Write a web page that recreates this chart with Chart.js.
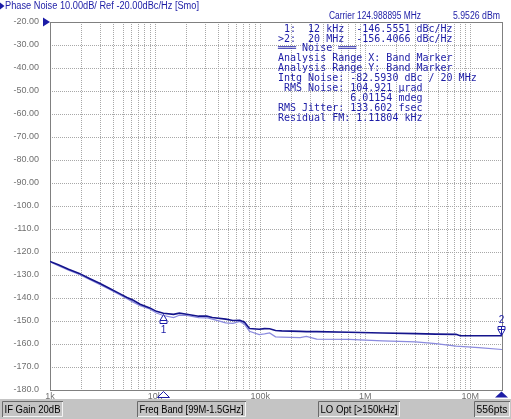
<!DOCTYPE html>
<html>
<head>
<meta charset="utf-8">
<script src="https://cdn.jsdelivr.net/npm/chart.js@4.4.1/dist/chart.umd.min.js"></script>
<style>
  html, body { margin: 0; padding: 0; background: #fff; }
  #wrap { position: relative; width: 511px; height: 419px; overflow: hidden; }
</style>
</head>
<body>
<div id="wrap"><canvas id="pnChart" width="511" height="419"></canvas></div>
<script>
// offset frequency in Hz (shared by both traces)
const offsetFreq = [1000, 1200, 1500, 1900, 2400, 3000, 3700, 4600, 5400, 6200, 7200, 8900,
  10300, 12000, 15000, 17000, 20000, 26000, 31000, 35000, 47000, 55000, 64000, 71000, 79000,
  98000, 110000, 123000, 140000, 160000, 240000, 275000, 345000, 700000, 1460000, 3000000,
  4700000, 7300000, 8000000, 12000000, 20000000];

// data trace (dark) in dBc/Hz
const phaseNoise = [-124.1, -125.5, -127.5, -129.3, -131.6, -133.7, -135.9, -138.1, -139.8, -141.0,
  -142.7, -144.3, -145.8, -146.6, -147.1, -146.6, -147.1, -147.9, -147.9, -148.5, -149.2, -149.8,
  -149.7, -150.5, -153.3, -153.6, -153.3, -153.4, -154.1, -154.3, -154.5, -154.6, -154.6, -154.9,
  -155.2, -155.5, -155.7, -155.8, -156.4, -156.4, -156.4];

// memory trace (light) in dBc/Hz
const phaseNoiseMem = [-124.3, -126.0, -127.9, -129.8, -132.0, -134.2, -136.3, -138.6, -140.3, -141.8,
  -143.3, -144.8, -146.5, -147.6, -148.5, -147.5, -147.6, -148.5, -148.6, -149.2, -150.8, -151.0,
  -150.2, -151.5, -154.5, -155.9, -155.6, -155.2, -156.9, -157.0, -157.2, -156.7, -157.9, -158.0,
  -158.6, -159.1, -159.8, -160.9, -161.0, -161.6, -162.4];

const decadeTicks = [1e3, 1e4, 1e5, 1e6, 1e7];
const decadeLabels = ['1k', '10k', '100k', '1M', '10M'];

const markerFreq = [12000, 20000000];
const markerLevel = [-146.5551, -156.4066];

const titleText = 'Phase Noise 10.00dB/ Ref -20.00dBc/Hz [Smo]';
const carrierText = 'Carrier 124.988895 MHz';
const carrierPower = '5.9526 dBm';
const readoutLines = [
  ' 1:  12 kHz  -146.5551 dBc/Hz',
  '>2:  20 MHz  -156.4066 dBc/Hz',
  '\u2550\u2550\u2550 Noise \u2550\u2550\u2550',
  'Analysis Range X: Band Marker',
  'Analysis Range Y: Band Marker',
  'Intg Noise: -82.5930 dBc / 20 MHz',
  ' RMS Noise: 104.921 \u00b5rad',
  '            6.01154 mdeg',
  'RMS Jitter: 133.602 fsec',
  'Residual FM: 1.11804 kHz'
];
const statusItems = ['IF Gain 20dB', 'Freq Band [99M-1.5GHz]', 'LO Opt [>150kHz]', '556pts'];

// grid positions on the log axis: 1..9 per decade plus the stop frequency
const xGridValues = [];
decadeTicks.forEach(d => { for (let m = 1; m <= 9; m++) xGridValues.push(m * d); });
xGridValues.push(20000000);

const BLUE = '#1c1ca6';

const overlay = {
    id: 'overlay',
    beforeDatasetsDraw(chart) {
        const { ctx, chartArea: a } = chart;
        ctx.save();
        ctx.strokeStyle = '#808080';
        ctx.lineWidth = 1;
        ctx.strokeRect(a.left + 0.5, a.top + 0.5, a.right - a.left, a.bottom - a.top);
        ctx.restore();
    },
    afterDraw(chart) {
        const { ctx, chartArea: a } = chart;
        const xs = chart.scales.x, ys = chart.scales.y;
        ctx.save();

        // title + ref marker
        ctx.fillStyle = BLUE;
        ctx.beginPath();
        ctx.moveTo(0, 2.5); ctx.lineTo(0, 9.5); ctx.lineTo(4.5, 6); ctx.closePath();
        ctx.fill();
        ctx.font = '10px "Liberation Sans"';
        ctx.textBaseline = 'middle';
        ctx.textAlign = 'left';
        ctx.fillText(titleText, 5, 6.5, 194);

        const yRef = ys.getPixelForValue(-20);
        ctx.beginPath();
        ctx.moveTo(43, yRef - 4.5); ctx.lineTo(43, yRef + 4.5); ctx.lineTo(50, yRef); ctx.closePath();
        ctx.fill();

        // carrier line
        ctx.fillText(carrierText, 329, 16, 92);
        ctx.fillText(carrierPower, 453, 16, 47);

        // marker / noise readout
        ctx.font = '10px "DejaVu Sans Mono"';
        readoutLines.forEach((t, i) => ctx.fillText(t, 278, 29 + i * 9.93));

        // trace markers
        ctx.strokeStyle = BLUE;
        ctx.lineWidth = 1;
        ctx.font = '10px "Liberation Sans"';
        ctx.textAlign = 'center';
        const m1x = Math.round(xs.getPixelForValue(markerFreq[0])) + 0.5;
        const m1y = Math.round(ys.getPixelForValue(markerLevel[0])) + 0.5;
        ctx.beginPath();
        ctx.moveTo(m1x, m1y + 1);
        ctx.lineTo(m1x + 3.5, m1y + 7); ctx.lineTo(m1x + 3.5, m1y + 10);
        ctx.lineTo(m1x - 3.5, m1y + 10); ctx.lineTo(m1x - 3.5, m1y + 7);
        ctx.closePath();
        ctx.fillStyle = '#fff'; ctx.fill(); ctx.stroke();
        ctx.beginPath(); ctx.moveTo(m1x - 3.5, m1y + 7); ctx.lineTo(m1x + 3.5, m1y + 7); ctx.stroke();
        ctx.fillStyle = BLUE;
        ctx.fillText('1', m1x, m1y + 17);

        const m2x = Math.round(xs.getPixelForValue(markerFreq[1])) - 0.5;
        const m2y = Math.round(ys.getPixelForValue(markerLevel[1])) + 0.5;
        ctx.beginPath();
        ctx.moveTo(m2x, m2y - 1);
        ctx.lineTo(m2x + 3.5, m2y - 7); ctx.lineTo(m2x + 3.5, m2y - 10);
        ctx.lineTo(m2x - 3.5, m2y - 10); ctx.lineTo(m2x - 3.5, m2y - 7);
        ctx.closePath();
        ctx.fillStyle = '#fff'; ctx.fill(); ctx.stroke();
        ctx.beginPath(); ctx.moveTo(m2x - 3.5, m2y - 7); ctx.lineTo(m2x + 3.5, m2y - 7); ctx.stroke();
        ctx.beginPath(); ctx.moveTo(m2x, m2y - 10); ctx.lineTo(m2x, m2y - 1); ctx.stroke();
        ctx.fillStyle = BLUE;
        ctx.fillText('2', m2x, m2y - 16);

        // stimulus markers under the axis
        const b = a.bottom + 0.5;
        ctx.beginPath();
        ctx.moveTo(m1x, b + 1); ctx.lineTo(m1x + 6, b + 7); ctx.lineTo(m1x - 6, b + 7); ctx.closePath();
        ctx.fillStyle = '#fff'; ctx.fill(); ctx.stroke();
        ctx.beginPath();
        ctx.moveTo(m2x, b + 1); ctx.lineTo(m2x + 6.5, b + 7); ctx.lineTo(m2x - 6.5, b + 7); ctx.closePath();
        ctx.fillStyle = BLUE; ctx.fill();

        // status bar
        ctx.fillStyle = '#c4c4c4';
        ctx.fillRect(0, 399, 511, 20);
        const boxes = [[2, 61], [137, 109], [318, 82], [474, 36]];
        ctx.font = '11px "Liberation Sans"';
        ctx.textAlign = 'center';
        boxes.forEach(([bx, bw], i) => {
            ctx.strokeStyle = '#6a6a6a';
            ctx.beginPath();
            ctx.moveTo(bx + 0.5, 417); ctx.lineTo(bx + 0.5, 401.5); ctx.lineTo(bx + bw, 401.5);
            ctx.stroke();
            ctx.strokeStyle = '#f4f4f4';
            ctx.beginPath();
            ctx.moveTo(bx + bw - 0.5, 402); ctx.lineTo(bx + bw - 0.5, 416.5); ctx.lineTo(bx + 1, 416.5);
            ctx.stroke();
            ctx.fillStyle = '#000';
            ctx.fillText(statusItems[i], bx + bw / 2, 409.5, bw - 5);
        });
        ctx.restore();
    }
};

const ctx = document.getElementById('pnChart').getContext('2d');
window.pnChart = new Chart(ctx, {
    type: 'scatter',
    data: {
        datasets: [{
            data: offsetFreq.map((f, i) => ({ x: f, y: phaseNoise[i] })),
            showLine: true,
            borderColor: '#14148c',
            borderWidth: 1.6,
            pointRadius: 0
        }, {
            data: offsetFreq.map((f, i) => ({ x: f, y: phaseNoiseMem[i] })),
            showLine: true,
            borderColor: '#8a8ade',
            borderWidth: 1.2,
            pointRadius: 0
        }]
    },
    options: {
        responsive: false,
        animation: false,
        devicePixelRatio: 1,
        layout: { padding: { top: 22, right: 9, left: 0, bottom: 0 } },
        plugins: {
            legend: { display: false },
            tooltip: { enabled: false }
        },
        scales: {
            x: {
                type: 'logarithmic',
                min: 1000,
                max: 20000000,
                afterBuildTicks: s => { s.ticks = xGridValues.map(v => ({ value: v })); },
                afterFit: s => { s.height = 29; },
                grid: { color: '#a8a8a8', drawTicks: false },
                border: { display: false, dash: [1, 1] },
                ticks: {
                    autoSkip: false,
                    maxRotation: 0,
                    padding: 1,
                    color: '#707070',
                    font: { family: 'Liberation Sans', size: 9 },
                    callback: v => {
                        const i = decadeTicks.indexOf(v);
                        return i < 0 ? '' : decadeLabels[i];
                    }
                }
            },
            y: {
                min: -180,
                max: -20,
                afterFit: s => { s.width = 50; },
                grid: { color: '#a8a8a8', drawTicks: false },
                border: { display: false, dash: [1, 1] },
                ticks: {
                    stepSize: 10,
                    padding: 11,
                    color: '#707070',
                    font: { family: 'Liberation Sans', size: 9 },
                    callback: v => v > -100 ? v.toFixed(2) : v.toFixed(1)
                }
            }
        }
    },
    plugins: [overlay]
});
</script>
</body>
</html>
